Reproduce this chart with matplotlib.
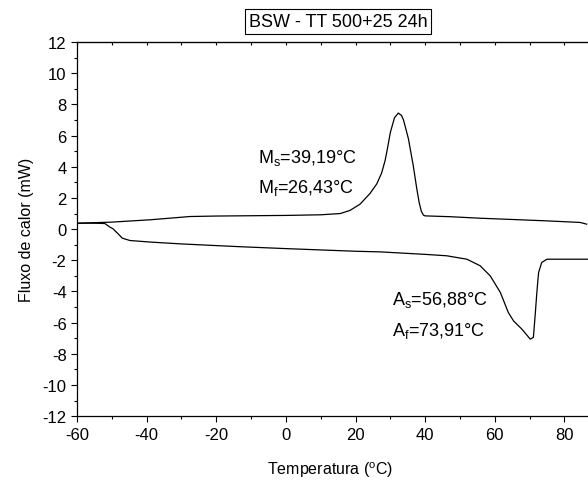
"""DSC curve, BSW - TT 500+25 24h."""

import matplotlib
matplotlib.use("Agg")
import matplotlib.pyplot as plt
from matplotlib.ticker import MultipleLocator

plt.rcParams["font.family"] = ["Liberation Sans", "DejaVu Sans"]
plt.rcParams["mathtext.fontset"] = "custom"
plt.rcParams["mathtext.rm"] = "Liberation Sans"
plt.rcParams["mathtext.it"] = "Liberation Sans"
plt.rcParams["axes.unicode_minus"] = False

# cooling run (upper curve, martensite peak)
cool_t = [-60, -50, -39, -27.5, -20, -10, 0, 10, 15.6, 18.4, 21.3, 24.2, 26.1,
          27.5, 28.5, 29.2, 30, 31.2, 32.3, 33.2, 33.8, 35.2, 36.6, 37.6, 38.3,
          38.9, 39.5, 40, 47, 55.8, 65, 75, 84.5, 86.4]
cool_q = [0.38, 0.45, 0.6, 0.81, 0.84, 0.86, 0.88, 0.92, 1.0, 1.2, 1.6, 2.3, 2.9,
          3.6, 4.4, 5.2, 6.2, 7.15, 7.45, 7.3, 7.0, 5.8, 4.06, 2.6, 1.7,
          1.15, 0.9, 0.85, 0.8, 0.7, 0.62, 0.53, 0.43, 0.32]

# heating run (lower curve, austenite peak)
heat_t = [-60, -55, -52, -50.5, -49.7, -48.2, -47, -44.8, -39, -30, -13, 0, 20,
          27.1, 40, 46.2, 52, 55.8, 58.7, 61.6, 63.9, 65.4, 67.8, 70.2, 71.1,
          71.6, 72.1, 72.6, 73.5, 75, 86.4, 90]
heat_q = [0.38, 0.38, 0.36, 0.12, 0.03, -0.3, -0.58, -0.73, -0.83, -0.95, -1.13,
          -1.25, -1.42, -1.46, -1.62, -1.71, -1.93, -2.35, -3.0, -4.06, -5.35,
          -5.89, -6.42, -7.06, -6.95, -5.56, -4.06, -2.78, -2.14, -1.93, -1.93,
          -1.93]

labels_m = ["M$_s$=39,19°C", "M$_f$=26,43°C"]
labels_a = ["A$_s$=56,88°C", "A$_f$=73,91°C"]


def main():
    fig = plt.figure(figsize=(5.88, 4.85), dpi=100)
    ax = fig.add_axes([0.131, 0.140, 0.888, 0.771])

    ax.plot(cool_t, cool_q, color="black", lw=0.9)
    ax.plot(heat_t, heat_q, color="black", lw=0.9)

    ax.set_xlim(-60, 90)
    ax.set_ylim(-12, 12)
    ax.xaxis.set_major_locator(MultipleLocator(20))
    ax.xaxis.set_minor_locator(MultipleLocator(10))
    ax.yaxis.set_major_locator(MultipleLocator(2))
    ax.yaxis.set_minor_locator(MultipleLocator(1))
    ax.tick_params(which="major", direction="out", length=4, width=0.8,
                   labelsize=12, top=False, right=False)
    ax.tick_params(which="minor", direction="out", length=2.5, width=0.8,
                   top=False, right=False)
    for s in ax.spines.values():
        s.set_linewidth(0.9)

    top = ax.secondary_xaxis("top")
    top.xaxis.set_major_locator(MultipleLocator(10))
    top.tick_params(direction="in", length=2.5, width=0.8, labeltop=False)

    ax.set_xlabel("Temperatura ($^{o}$C)", fontsize=11.5)
    ax.xaxis.set_label_coords(0.485, -0.115)
    ax.set_ylabel("Fluxo de calor (mW)", fontsize=11.5, labelpad=6)

    ax.text(-8, 4.65, labels_m[0], fontsize=13, va="center")
    ax.text(-8, 2.7, labels_m[1], fontsize=13, va="center")
    ax.text(30.5, -4.5, labels_a[0], fontsize=13, va="center")
    ax.text(30.5, -6.45, labels_a[1], fontsize=13, va="center")

    fig.text(338 / 588, 1 - 22.5 / 485, "BSW - TT 500+25 24h", fontsize=13,
             ha="center", va="center",
             bbox=dict(boxstyle="square,pad=0.2", fc="white", ec="black", lw=0.8))

    fig.savefig("out.png", dpi=100)


if __name__ == "__main__":
    main()
